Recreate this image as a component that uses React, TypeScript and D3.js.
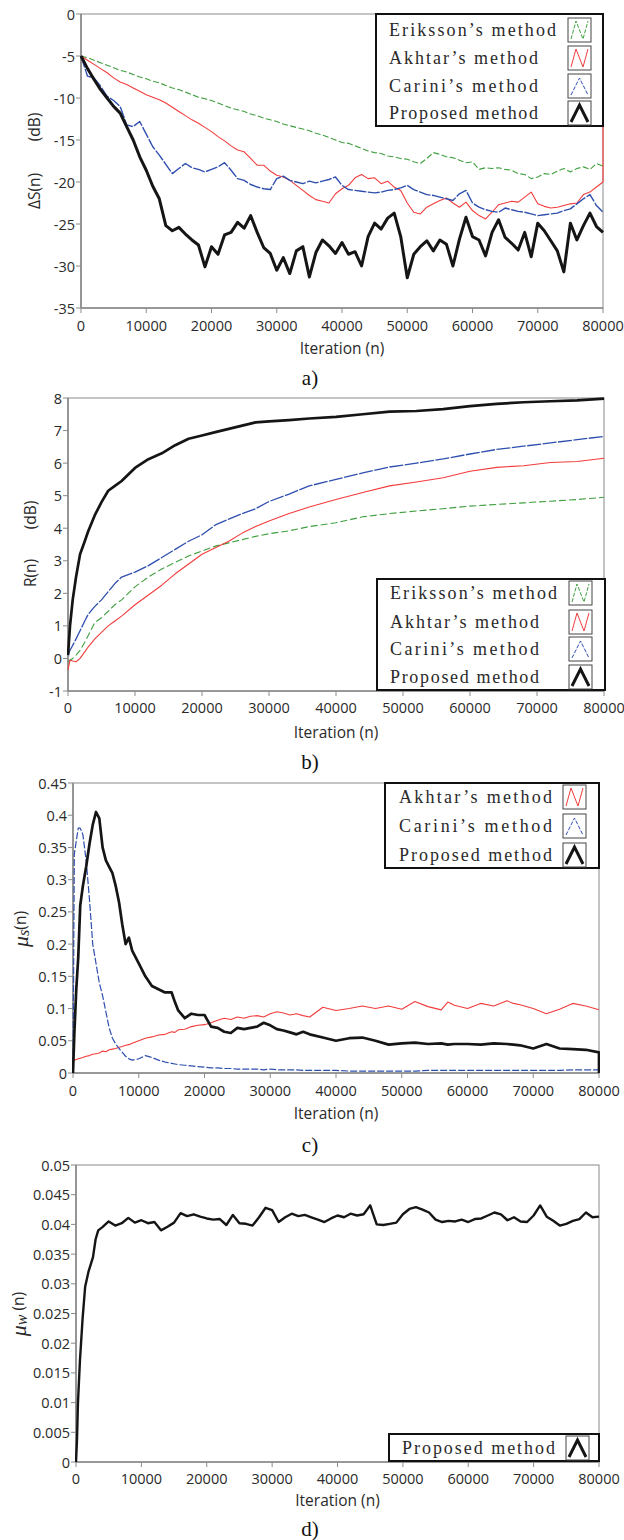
import React from "react";
import * as d3 from "d3";

// ---------- shared ----------
const iterTicks = [0, 10000, 20000, 30000, 40000, 50000, 60000, 70000, 80000];

// ---------- panel a : ΔS(n) ----------
const iterA = [0,1000,2000,3000,4000,5000,6000,7000,8000,9000,10000,11000,12000,13000,14000,15000,16000,17000,18000,19000,20000,21000,22000,23000,24000,25000,26000,27000,28000,29000,30000,31000,32000,33000,34000,35000,36000,37000,38000,39000,40000,41000,42000,43000,44000,45000,46000,47000,48000,49000,50000,51000,52000,53000,54000,55000,56000,57000,58000,59000,60000,61000,62000,63000,64000,65000,66000,67000,68000,69000,70000,71000,72000,73000,74000,75000,76000,77000,78000,79000,80000,80000];
const dsEriksson = [-5.0,-5.2,-5.5,-5.8,-6.1,-6.4,-6.7,-6.9,-7.2,-7.5,-7.7,-8.0,-8.2,-8.5,-8.8,-9.0,-9.3,-9.6,-9.9,-10.1,-10.3,-10.6,-10.9,-11.2,-11.4,-11.6,-11.9,-12.1,-12.4,-12.6,-12.8,-13.1,-13.3,-13.5,-13.7,-13.9,-14.2,-14.4,-14.7,-15.0,-15.3,-15.4,-15.7,-16.0,-16.3,-16.5,-16.6,-16.9,-17.0,-17.2,-17.3,-17.6,-17.8,-17.2,-16.5,-16.7,-17.0,-17.1,-17.4,-17.7,-17.6,-18.5,-18.3,-18.4,-18.3,-18.5,-18.6,-19.0,-19.1,-19.6,-19.4,-19.0,-19.1,-18.7,-18.4,-18.8,-18.4,-18.2,-18.5,-17.8,-18.1,-18.1];
const dsAkhtar = [-5.0,-5.5,-6.0,-6.5,-7.0,-7.6,-8.1,-8.4,-8.8,-9.2,-9.6,-9.9,-10.2,-10.6,-11.1,-11.6,-12.1,-12.6,-13.0,-13.5,-14.0,-14.6,-15.1,-15.7,-16.2,-16.4,-17.2,-18.0,-18.0,-18.7,-19.2,-19.4,-19.8,-20.4,-21.0,-21.6,-22.1,-22.3,-22.5,-21.4,-20.8,-20.4,-19.5,-19.1,-19.6,-19.5,-20.2,-19.9,-20.6,-21.0,-22.5,-23.6,-23.8,-23.0,-22.6,-22.2,-21.9,-22.5,-23.0,-22.4,-23.4,-24.0,-24.4,-23.6,-22.7,-22.5,-22.3,-22.4,-21.8,-21.2,-22.6,-22.9,-23.1,-23.0,-22.8,-22.6,-22.5,-21.5,-21.2,-20.6,-20.0,-8.5];
const dsCarini = [-5.0,-7.4,-7.6,-8.6,-9.8,-10.3,-11.0,-13.2,-13.4,-12.8,-14.3,-15.8,-16.8,-17.9,-19.0,-18.4,-17.8,-18.3,-18.5,-18.8,-18.5,-18.2,-17.7,-18.6,-19.6,-19.8,-20.3,-20.6,-20.8,-20.9,-19.6,-19.3,-19.8,-20.0,-20.2,-19.9,-20.1,-19.9,-19.7,-19.4,-20.4,-20.9,-21.0,-21.1,-21.2,-21.3,-21.2,-21.0,-20.9,-20.7,-20.4,-20.9,-21.2,-21.5,-21.6,-21.8,-22.0,-22.2,-21.4,-21.0,-22.5,-23.0,-23.3,-23.5,-23.6,-23.1,-23.3,-23.5,-23.6,-23.8,-24.0,-23.9,-23.8,-23.7,-23.4,-23.2,-22.6,-22.0,-21.5,-22.8,-23.6,-23.6];
const dsProposed = [-5.0,-6.5,-7.8,-9.0,-10.0,-11.0,-11.8,-13.4,-15.0,-17.0,-18.6,-20.5,-22.0,-25.2,-25.8,-25.4,-26.2,-26.9,-27.5,-30.1,-27.7,-28.6,-26.3,-26.0,-24.8,-25.5,-24.0,-26.0,-27.8,-28.5,-30.5,-29.0,-30.9,-28.2,-27.7,-31.3,-28.4,-26.9,-27.6,-28.5,-27.2,-28.6,-28.3,-30.0,-26.5,-24.9,-25.6,-24.3,-23.7,-26.5,-31.4,-28.6,-27.7,-27.0,-28.2,-26.9,-27.4,-30.0,-26.8,-24.2,-26.5,-26.9,-28.8,-26.0,-24.5,-26.6,-27.3,-28.1,-26.0,-28.9,-24.9,-25.8,-27.0,-28.2,-30.7,-24.9,-26.9,-25.2,-23.7,-25.3,-26.0,-26.0];
const dsTicks = [0, -5, -10, -15, -20, -25, -30, -35];

// ---------- panel b : R(n) ----------
const iterB = [0,300,700,1200,1800,2500,3000,4000,5000,6000,7000,8000,10000,12000,14000,16000,18000,20000,22000,24000,26000,28000,30000,33000,36000,40000,44000,48000,52000,56000,60000,64000,68000,72000,76000,80000];
const rEriksson = [-0.1,-0.05,0.0,0.1,0.25,0.5,0.7,1.1,1.25,1.45,1.65,1.8,2.2,2.5,2.75,2.95,3.15,3.3,3.45,3.55,3.65,3.75,3.83,3.92,4.05,4.17,4.35,4.45,4.53,4.6,4.68,4.73,4.78,4.83,4.88,4.95];
const rAkhtar = [-0.35,-0.05,-0.08,-0.1,0.0,0.2,0.35,0.6,0.8,1.0,1.15,1.3,1.65,1.95,2.25,2.6,2.9,3.2,3.4,3.6,3.85,4.05,4.22,4.45,4.65,4.88,5.1,5.3,5.42,5.55,5.75,5.87,5.92,6.02,6.05,6.15];
const rCarini = [0.1,0.25,0.4,0.6,0.85,1.15,1.35,1.6,1.8,2.05,2.3,2.5,2.65,2.85,3.1,3.35,3.6,3.8,4.1,4.28,4.45,4.6,4.82,5.05,5.3,5.5,5.7,5.88,6.0,6.13,6.28,6.42,6.52,6.62,6.72,6.82];
const rProposed = [0.1,1.0,1.8,2.5,3.2,3.6,3.9,4.4,4.8,5.15,5.3,5.45,5.85,6.12,6.3,6.55,6.75,6.85,6.95,7.05,7.15,7.25,7.28,7.32,7.37,7.42,7.5,7.58,7.6,7.66,7.75,7.82,7.87,7.9,7.93,7.98];
const rTicks = [-1, 0, 1, 2, 3, 4, 5, 6, 7, 8];

// ---------- panel c : mu_s(n) ----------
const iterC = [0,200,500,800,1100,1500,2000,2500,3000,3500,4000,4500,5000,5500,6000,6500,7000,7500,8000,8500,9000,10000,11000,12000,13000,14000,15000,15500,16000,17000,18000,19000,20000,21000,22000,23000,24000,25000,26000,27000,28000,29000,30000,31000,32000,33000,34000,35000,36000,38000,40000,42000,44000,46000,48000,50000,52000,54000,56000,57000,58000,60000,62000,64000,66000,67000,68000,70000,72000,74000,76000,78000,80000,80000];
const muAkhtar = [0.017,0.02,0.021,0.022,0.023,0.024,0.026,0.027,0.029,0.03,0.031,0.034,0.033,0.036,0.037,0.038,0.04,0.041,0.043,0.044,0.046,0.05,0.054,0.056,0.059,0.06,0.064,0.063,0.067,0.068,0.072,0.074,0.075,0.078,0.082,0.085,0.083,0.087,0.085,0.088,0.089,0.087,0.092,0.095,0.093,0.09,0.092,0.089,0.087,0.102,0.097,0.1,0.104,0.1,0.104,0.099,0.111,0.103,0.098,0.11,0.105,0.1,0.108,0.104,0.112,0.108,0.106,0.1,0.092,0.099,0.108,0.104,0.098,0.098];
const muCarini = [0,0.34,0.36,0.38,0.38,0.37,0.33,0.27,0.2,0.17,0.14,0.12,0.095,0.07,0.054,0.045,0.038,0.032,0.026,0.022,0.02,0.022,0.027,0.024,0.02,0.017,0.015,0.014,0.013,0.012,0.011,0.01,0.009,0.008,0.008,0.007,0.007,0.006,0.006,0.006,0.006,0.005,0.006,0.005,0.005,0.005,0.005,0.004,0.004,0.004,0.004,0.003,0.003,0.003,0.003,0.003,0.003,0.004,0.004,0.004,0.004,0.004,0.004,0.004,0.004,0.004,0.004,0.004,0.004,0.004,0.005,0.005,0.005,0];
const muProposed = [0,0.06,0.13,0.18,0.26,0.29,0.32,0.355,0.385,0.405,0.395,0.35,0.33,0.32,0.31,0.29,0.265,0.23,0.2,0.21,0.19,0.17,0.15,0.135,0.13,0.125,0.125,0.11,0.097,0.085,0.092,0.09,0.09,0.072,0.07,0.064,0.062,0.07,0.068,0.07,0.072,0.078,0.074,0.068,0.066,0.063,0.06,0.064,0.06,0.055,0.05,0.054,0.055,0.05,0.044,0.046,0.047,0.045,0.046,0.044,0.045,0.045,0.044,0.046,0.045,0.044,0.043,0.038,0.045,0.038,0.037,0.036,0.032,0];
const muTicks = [0, 0.05, 0.1, 0.15, 0.2, 0.25, 0.3, 0.35, 0.4, 0.45];

// ---------- panel d : mu_w(n) ----------
const iterD = [0,150,300,600,1000,1400,1900,2600,3000,3400,4000,5000,6000,7000,8000,9000,10000,11000,12000,13000,14000,15000,16000,17000,18000,19000,20000,21000,22000,23000,24000,25000,26000,27000,28000,29000,30000,31000,32000,33000,34000,35000,36000,37000,38000,39000,40000,41000,42000,43000,44000,45000,46000,47000,48000,49000,50000,51000,52000,53000,54000,55000,56000,57000,58000,59000,60000,61000,62000,63000,64000,65000,66000,67000,68000,69000,70000,71000,72000,73000,74000,75000,76000,77000,78000,79000,80000];
const muWProposed = [0,0.0037,0.01,0.017,0.024,0.0295,0.032,0.0345,0.0375,0.039,0.0395,0.0405,0.0398,0.0402,0.0411,0.0403,0.0407,0.0402,0.0404,0.039,0.0396,0.0403,0.0419,0.0414,0.0417,0.0413,0.041,0.0408,0.0409,0.0399,0.0416,0.0402,0.0401,0.0398,0.0412,0.0428,0.0424,0.0404,0.0412,0.0418,0.0414,0.0416,0.0412,0.0408,0.0404,0.041,0.0415,0.0412,0.0418,0.0415,0.0417,0.0432,0.04,0.0399,0.0401,0.0403,0.0417,0.0426,0.0429,0.0425,0.042,0.0408,0.0404,0.0406,0.0405,0.0408,0.0404,0.0409,0.041,0.0415,0.042,0.0417,0.0407,0.0412,0.0405,0.0404,0.0415,0.0432,0.0413,0.0406,0.0398,0.0401,0.0406,0.0409,0.042,0.0412,0.0413];
const muWTicks = [0, 0.005, 0.01, 0.015, 0.02, 0.025, 0.03, 0.035, 0.04, 0.045, 0.05];

// ---------- styles ----------
const GREEN = "#3f9f3f";
const RED = "#f23c3c";
const BLUE = "#2f4fae";
const BLACK = "#151515";
const AXIS = "#8a8a8a";
const TXT = "#2a2a2a";
const SANS = "'Open Sans', 'Noto Sans', sans-serif";
const SERIF = "'Liberation Serif', 'DejaVu Serif', serif";

type Series = {
  name: string;
  xs: number[];
  ys: number[];
  color: string;
  width: number;
  dash?: string;
  zig: "N" | "A";
};

type PanelProps = {
  id: string;
  left: number;
  right: number;
  top: number;
  bottom: number;
  yDomain: [number, number];
  yTicks: number[];
  series: Series[];
  legend: { x0: number; x1: number; y0: number; rows: number[]; textX: number; swX: number; textLens: number[] };
  ylabel: React.ReactNode;
  tickLabelY: number;
  xLabelY: number;
  caption: string;
  captionY: number;
};

function Panel(p: PanelProps) {
  const x = d3.scaleLinear().domain([0, 80000]).range([p.left, p.right]);
  const y = d3.scaleLinear().domain(p.yDomain).range([p.bottom, p.top]);
  const fmt = (v: number) => String(+v.toFixed(4));
  const lg = p.legend;
  const legendBottom = lg.rows[lg.rows.length - 1] + 13;
  return (
    <g>
      <defs>
        <clipPath id={`clip-${p.id}`}>
          <rect x={p.left - 1} y={p.top - 2} width={p.right - p.left + 2} height={p.bottom - p.top + 4} />
        </clipPath>
      </defs>
      {/* frame */}
      <rect x={p.left} y={p.top} width={p.right - p.left} height={p.bottom - p.top} fill="none" stroke={AXIS} strokeWidth={1} />
      <line x1={p.left} x2={p.left} y1={p.top} y2={p.bottom} stroke={AXIS} strokeWidth={1.6} />
      <line x1={p.left} x2={p.right} y1={p.bottom} y2={p.bottom} stroke={AXIS} strokeWidth={1.6} />
      {/* y ticks */}
      {p.yTicks.map((t) => (
        <g key={`y${t}`}>
          <line x1={p.left - 5} x2={p.left} y1={y(t)} y2={y(t)} stroke={AXIS} />
          <text x={p.left - 6} y={y(t)} textAnchor="end" dominantBaseline="central" fontFamily={SANS} fontSize={14.5} fill={TXT}>
            {fmt(t)}
          </text>
        </g>
      ))}
      {/* x ticks */}
      {iterTicks.map((t) => (
        <g key={`x${t}`}>
          <line x1={x(t)} x2={x(t)} y1={p.bottom} y2={p.bottom + 5} stroke={AXIS} />
          <text x={x(t)} y={p.tickLabelY} textAnchor="middle" dominantBaseline="central" fontFamily={SANS} fontSize={14.5} fill={TXT}>
            {t}
          </text>
        </g>
      ))}
      <text x={(p.left + p.right) / 2} y={p.xLabelY} textAnchor="middle" dominantBaseline="central" fontFamily={SANS} fontSize={15.5} fill={TXT}>
        Iteration (n)
      </text>
      <text x={310} y={p.captionY} textAnchor="middle" dominantBaseline="central" fontFamily={SERIF} fontSize={21} fill="#111">
        {p.caption}
      </text>
      {p.ylabel}
      {/* series */}
      <g clipPath={`url(#clip-${p.id})`}>
        {p.series.map((s) => {
          const line = d3
            .line<number>()
            .x((_, i) => x(s.xs[i]))
            .y((d) => y(d));
          return (
            <path
              key={s.name}
              d={line(s.ys) || ""}
              fill="none"
              stroke={s.color}
              strokeWidth={s.width}
              strokeDasharray={s.dash}
              strokeLinejoin="round"
            />
          );
        })}
      </g>
      {/* legend */}
      <rect x={lg.x0} y={lg.y0} width={lg.x1 - lg.x0} height={legendBottom - lg.y0} fill="#fff" stroke="#111" strokeWidth={2} />
      {p.series.map((s, i) => {
        const cy = lg.rows[i];
        const sx0 = lg.swX;
        const sx1 = lg.swX + 23;
        const sy0 = cy - 12;
        const sy1 = cy + 12;
        const pts =
          s.zig === "N"
            ? [
                [sx0 + 3, sy1 - 3],
                [sx0 + 8, sy0 + 3],
                [sx0 + 15, sy1 - 3],
                [sx1 - 3, sy0 + 3],
              ]
            : [
                [sx0 + 3, sy1 - 3],
                [sx0 + 11.5, sy0 + 4],
                [sx1 - 3, sy1 - 3],
              ];
        return (
          <g key={`lg${s.name}`}>
            <text
              x={lg.textX}
              y={cy}
              dominantBaseline="central"
              fontFamily={SERIF}
              fontSize={18}
              fill={TXT}
              textLength={lg.textLens[i]}
              lengthAdjust="spacing"
            >
              {s.name}
            </text>
            <rect x={sx0} y={sy0} width={23} height={24} fill="#fff" stroke="#444" strokeWidth={1} />
            <polyline
              points={pts.map((q) => q.join(",")).join(" ")}
              fill="none"
              stroke={s.color}
              strokeWidth={s.width > 2 ? 3 : 1}
              strokeDasharray={s.dash ? "4,1.5" : undefined}
            />
          </g>
        );
      })}
    </g>
  );
}

const muLabel = (cx: number, cy: number, sub: string, gap: string) => (
  <text transform={`translate(${cx},${cy}) rotate(-90)`} textAnchor="middle" dominantBaseline="central" fill={TXT}>
    <tspan fontFamily={SERIF} fontStyle="italic" fontSize={22}>μ</tspan>
    <tspan fontFamily={SERIF} fontStyle="italic" fontSize={16} dy={3}>{sub}</tspan>
    <tspan fontFamily={SANS} fontSize={15.5} dy={-3}>{gap + "(n)"}</tspan>
  </text>
);

export default function App() {
  const namesAll = ["Eriksson’s method", "Akhtar’s method", "Carini’s method", "Proposed method"];
  const panelA: Series[] = [
    { name: namesAll[0], xs: iterA, ys: dsEriksson, color: GREEN, width: 1.1, dash: "6,2.5", zig: "N" },
    { name: namesAll[1], xs: iterA, ys: dsAkhtar, color: RED, width: 1.1, zig: "N" },
    { name: namesAll[2], xs: iterA, ys: dsCarini, color: BLUE, width: 1.4, dash: "12,1.5", zig: "A" },
    { name: namesAll[3], xs: iterA, ys: dsProposed, color: BLACK, width: 3, zig: "A" },
  ];
  const panelB: Series[] = [
    { name: namesAll[0], xs: iterB, ys: rEriksson, color: GREEN, width: 1.1, dash: "7,3", zig: "N" },
    { name: namesAll[1], xs: iterB, ys: rAkhtar, color: RED, width: 1.1, zig: "N" },
    { name: namesAll[2], xs: iterB, ys: rCarini, color: BLUE, width: 1.3, dash: "14,1.5", zig: "A" },
    { name: namesAll[3], xs: iterB, ys: rProposed, color: BLACK, width: 2.7, zig: "A" },
  ];
  const panelC: Series[] = [
    { name: namesAll[1], xs: iterC, ys: muAkhtar, color: RED, width: 1.1, zig: "N" },
    { name: namesAll[2], xs: iterC, ys: muCarini, color: BLUE, width: 1.2, dash: "7,2", zig: "A" },
    { name: namesAll[3], xs: iterC, ys: muProposed, color: BLACK, width: 2.7, zig: "A" },
  ];
  const panelD: Series[] = [
    { name: namesAll[3], xs: iterD, ys: muWProposed, color: BLACK, width: 2.4, zig: "A" },
  ];

  return (
    <div style={{ position: "absolute", left: 0, top: 0 }}>
      <svg width={624} height={1540} style={{ display: "block", background: "#fff" }}>
        <Panel
          id="a"
          left={81}
          right={603}
          top={14}
          bottom={308}
          yDomain={[-35, 0]}
          yTicks={dsTicks}
          series={panelA}
          legend={{ x0: 376, x1: 603, y0: 14, rows: [30, 58, 86, 113], textX: 389, swX: 568, textLens: [167, 149, 149, 149] }}
          ylabel={
            <g fill={TXT} fontFamily={SANS} fontSize={15.5}>
              <text transform="translate(34,127) rotate(-90)" textAnchor="middle" dominantBaseline="central">(dB)</text>
              <text transform="translate(34,191) rotate(-90)" textAnchor="middle" dominantBaseline="central">ΔS(n)</text>
            </g>
          }
          tickLabelY={325}
          xLabelY={348}
          caption="a)"
          captionY={378}
        />
        <Panel
          id="b"
          left={68}
          right={604}
          top={398}
          bottom={691}
          yDomain={[-1, 8]}
          yTicks={rTicks}
          series={panelB}
          legend={{ x0: 377, x1: 605, y0: 579, rows: [593, 622, 649, 677], textX: 390, swX: 569, textLens: [167, 149, 149, 149] }}
          ylabel={
            <g fill={TXT} fontFamily={SANS} fontSize={15.5}>
              <text transform="translate(30,515) rotate(-90)" textAnchor="middle" dominantBaseline="central">(dB)</text>
              <text transform="translate(30,573) rotate(-90)" textAnchor="middle" dominantBaseline="central">R(n)</text>
            </g>
          }
          tickLabelY={707}
          xLabelY={732}
          caption="b)"
          captionY={762}
        />
        <Panel
          id="c"
          left={73}
          right={599}
          top={783}
          bottom={1073}
          yDomain={[0, 0.45]}
          yTicks={muTicks}
          series={panelC}
          legend={{ x0: 385, x1: 599, y0: 783, rows: [797, 826, 855], textX: 399, swX: 563, textLens: [153, 153, 153] }}
          ylabel={muLabel(20, 929, "s", "")}
          tickLabelY={1090}
          xLabelY={1113}
          caption="c)"
          captionY={1145}
        />
        <Panel
          id="d"
          left={76}
          right={599}
          top={1165}
          bottom={1462}
          yDomain={[0, 0.05]}
          yTicks={muWTicks}
          series={panelD}
          legend={{ x0: 389, x1: 599, y0: 1434, rows: [1448], textX: 402, swX: 566, textLens: [153] }}
          ylabel={muLabel(18, 1314, "w", " ")}
          tickLabelY={1478}
          xLabelY={1500}
          caption="d)"
          captionY={1529}
        />
      </svg>
    </div>
  );
}
